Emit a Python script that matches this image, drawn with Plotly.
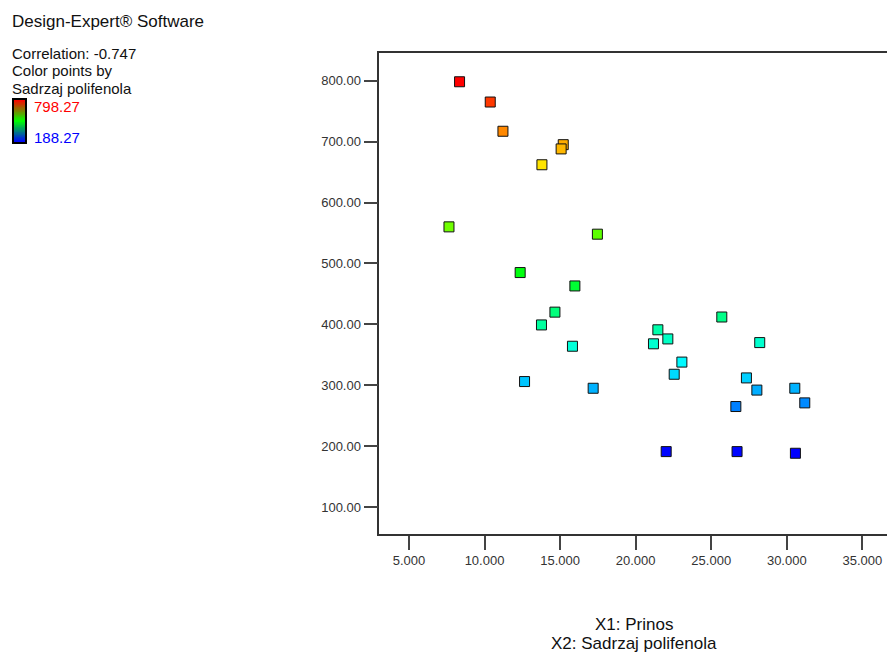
import plotly.graph_objects as go

# X1: Prinos (yield) and X2: Sadrzaj polifenola (polyphenol content)
prinos = [8.35, 10.38, 11.22, 15.21, 15.07, 13.80, 7.65, 17.47, 12.36, 15.98,
          14.66, 13.77, 15.82, 12.65, 17.19, 21.47, 22.13, 21.18, 25.70, 28.21,
          23.06, 22.55, 27.33, 28.02, 30.53, 31.19, 26.63, 22.02, 26.71, 30.57]
polifenoli = [798.27, 765, 717, 695, 688, 662, 560, 548, 485, 463,
              420, 399, 364, 306, 295, 391, 376, 368, 412, 370,
              338, 318, 312, 292, 295, 271, 265, 191, 191, 188.27]

x_ticks = [5, 10, 15, 20, 25, 30, 35]
y_ticks = [100, 200, 300, 400, 500, 600, 700, 800]

c_min, c_max = 188.27, 798.27
correlation = -0.747

W, H = 887, 653
FONT = "Liberation Sans, Arial, Helvetica, sans-serif"

point_scale = [[0.0, "#0000ff"], [0.25, "#00ffff"], [0.5, "#00ff00"],
               [0.75, "#ffff00"], [1.0, "#ff0000"]]
key_scale = [[0.0, "#0000ff"], [0.5, "#00ff00"], [1.0, "#ff0000"]]


def px_x(p):
    return p / W


def px_y(p):
    return 1 - p / H


fig = go.Figure()

fig.add_trace(go.Scatter(
    x=prinos, y=polifenoli, mode="markers",
    marker=dict(symbol="square", size=10, color=polifenoli,
                colorscale=point_scale, cmin=c_min, cmax=c_max,
                line=dict(color="#111111", width=1)),
    showlegend=False, hoverinfo="x+y",
))

# small colour key next to the notes
n_steps = 60
fig.add_trace(go.Heatmap(
    z=[[i / (n_steps - 1)] for i in range(n_steps)],
    colorscale=key_scale, showscale=False, xaxis="x2", yaxis="y2",
    hoverinfo="skip",
))

fig.update_layout(
    width=W, height=H,
    margin=dict(l=0, r=0, t=0, b=0),
    paper_bgcolor="white", plot_bgcolor="white",
    font=dict(family=FONT, color="#222222"),
    xaxis=dict(
        domain=[px_x(379.3), 1.0], range=[3.04, 36.63],
        tickvals=x_ticks, tickformat=".3f",
        ticks="outside", ticklen=14, tickwidth=1.5, tickcolor="#444444",
        showline=True, mirror=True, linecolor="#333333", linewidth=1.5,
        showgrid=False, zeroline=False, automargin=False,
        tickfont=dict(size=13, color="#333333"),
    ),
    yaxis=dict(
        domain=[px_y(534), px_y(53)], range=[55.7, 845.5],
        tickvals=y_ticks, tickformat=".2f",
        ticks="outside", ticklen=14, tickwidth=1.5, tickcolor="#444444",
        showline=True, mirror=False, linecolor="#333333", linewidth=1.5,
        showgrid=False, zeroline=False, automargin=False,
        tickfont=dict(size=13, color="#333333"),
    ),
    xaxis2=dict(
        domain=[px_x(13.5), px_x(25)], anchor="y2",
        showticklabels=False, ticks="", showgrid=False, zeroline=False,
        showline=True, mirror=True, linecolor="black", linewidth=2,
        automargin=False,
    ),
    yaxis2=dict(
        domain=[px_y(142), px_y(99.5)], anchor="x2",
        showticklabels=False, ticks="", showgrid=False, zeroline=False,
        showline=True, mirror=True, linecolor="black", linewidth=2,
        automargin=False,
    ),
)

notes = [
    ("Design-Expert® Software", 10, 21, "#111111", 17),
    (f"Correlation: {correlation:.3f}", 10, 53.5, "#111111", 15),
    ("Color points by", 10, 71, "#111111", 15),
    ("Sadrzaj polifenola", 10, 88.5, "#111111", 15),
    (f"{c_max:.2f}", 32, 106, "#ff0000", 15),
    (f"{c_min:.2f}", 32, 138, "#0000ff", 15),
]
for text, x, y, col, size in notes:
    fig.add_annotation(
        text=text, xref="paper", yref="paper", x=px_x(x), y=px_y(y),
        xanchor="left", yanchor="middle", showarrow=False,
        font=dict(size=size, color=col, family=FONT),
    )

for text, y in [("X1: Prinos", 624), ("X2: Sadrzaj polifenola", 643)]:
    fig.add_annotation(
        text=text, xref="paper", yref="paper", x=px_x(634), y=px_y(y),
        xanchor="center", yanchor="middle", showarrow=False,
        font=dict(size=17, color="#111111", family=FONT),
    )

fig.write_html("out.html")
